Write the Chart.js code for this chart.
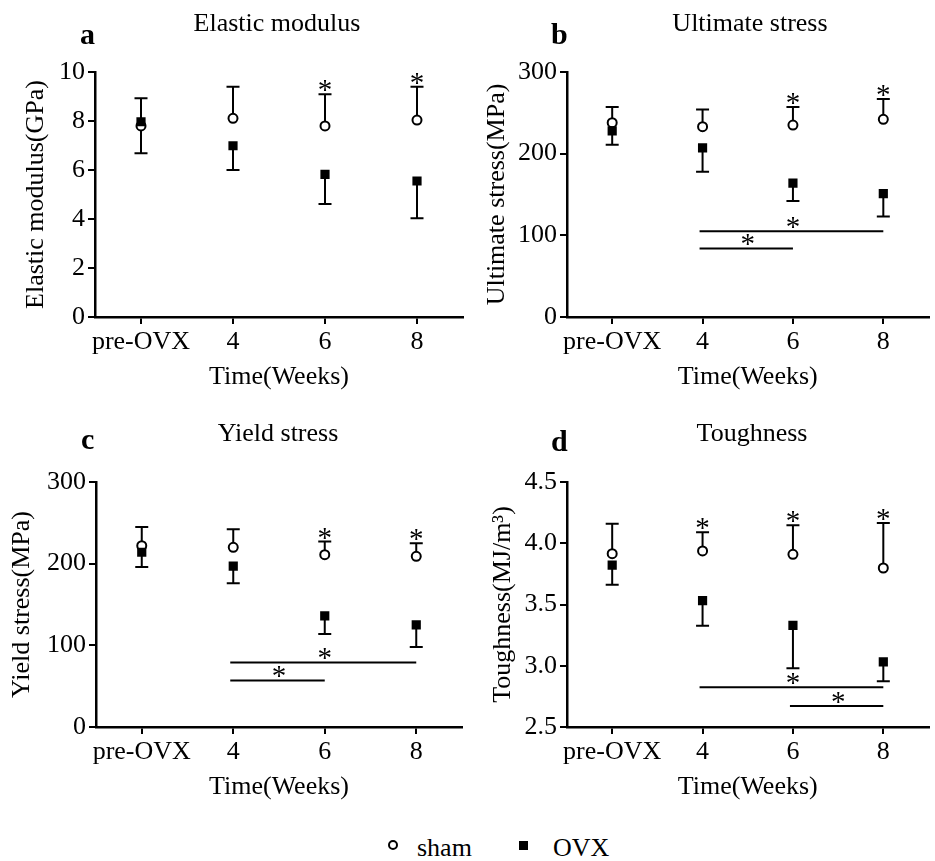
<!DOCTYPE html>
<html>
<head>
<meta charset="utf-8">
<script src="https://cdn.jsdelivr.net/npm/chart.js@4.4.1/dist/chart.umd.min.js"></script>
<style>
  html, body { margin: 0; padding: 0; background: #fff; }
  body { width: 935px; height: 861px; position: relative; overflow: hidden;
         font-family: "Liberation Serif", "Times New Roman", serif; color: #000; }
  .panel { position: absolute; width: 470px; height: 410px; }
  .panel canvas { position: absolute; left: 0; top: 0; }
  .ttl { position: absolute; width: 400px; text-align: center; font-size: 26px; line-height: 30px; white-space: nowrap; }
  .letter { position: absolute; font-size: 30px; font-weight: bold; line-height: 34px; }
  .legend { position: absolute; top: 830px; left: 0; width: 935px; height: 31px; }
  .legend span.t { position: absolute; font-size: 26px; line-height: 30px; top: 3px; }
  .mk-c { position: absolute; width: 6px; height: 6px; border: 2.5px solid #000; border-radius: 50%; background: #fff; }
  .mk-s { position: absolute; width: 9px; height: 9px; background: #000; }
</style>
</head>
<body>

<div class="panel" style="left:0;top:0"><canvas id="cA" width="470" height="410"></canvas></div>
<div class="panel" style="left:465px;top:0"><canvas id="cB" width="470" height="410"></canvas></div>
<div class="panel" style="left:0;top:410px"><canvas id="cC" width="470" height="410"></canvas></div>
<div class="panel" style="left:465px;top:410px"><canvas id="cD" width="470" height="410"></canvas></div>

<div class="letter" style="left:80px;top:17px">a</div>
<div class="letter" style="left:551px;top:17px">b</div>
<div class="letter" style="left:81px;top:422px">c</div>
<div class="letter" style="left:551px;top:424px">d</div>

<div class="ttl" style="left:77px;top:8px">Elastic modulus</div>
<div class="ttl" style="left:550px;top:8px">Ultimate stress</div>
<div class="ttl" style="left:78px;top:418px">Yield stress</div>
<div class="ttl" style="left:552px;top:418px">Toughness</div>

<div class="legend">
  <div class="mk-c" style="left:388px;top:10px"></div>
  <span class="t" style="left:417px">sham</span>
  <div class="mk-s" style="left:519px;top:11px"></div>
  <span class="t" style="left:553px">OVX</span>
</div>

<script>
// ---------- data ----------
const categories = ['pre-OVX', '4', '6', '8'];
const xAxisTitle = 'Time(Weeks)';

// a: Elastic modulus (GPa)
const shamA    = [7.80, 8.11, 7.80, 8.04];
const shamErrA = [1.13, 1.29, 1.29, 1.36];
const ovxA     = [7.97, 6.99, 5.82, 5.55];
const ovxErrA  = [1.29, 0.99, 1.21, 1.52];
const starsA   = [false, false, true, true];
const sigA     = [];
const yTicksA  = [0, 2, 4, 6, 8, 10];

// b: Ultimate stress (MPa)
const shamB    = [238, 233, 235, 242];
const shamErrB = [19, 21, 22, 25];
const ovxB     = [228, 207, 164, 151];
const ovxErrB  = [17, 29, 22, 28];
const starsB   = [false, false, true, true];
const sigFromB = [1, 1];
const sigToB   = [3, 2];
const sigValB  = [105, 84];
const yTicksB  = [0, 100, 200, 300];

// c: Yield stress (MPa)
const shamC    = [222, 220, 211, 209];
const shamErrC = [23, 22, 16, 16];
const ovxC     = [214, 197, 136, 125];
const ovxErrC  = [18, 21, 22, 27];
const starsC   = [false, false, true, true];
const sigFromC = [1, 1];
const sigToC   = [3, 2];
const sigValC  = [79, 57];
const yTicksC  = [0, 100, 200, 300];

// d: Toughness (MJ/m3)
const shamD    = [3.915, 3.937, 3.910, 3.798];
const shamErrD = [0.245, 0.152, 0.236, 0.367];
const ovxD     = [3.822, 3.531, 3.330, 3.031];
const ovxErrD  = [0.160, 0.204, 0.351, 0.158];
const starsD   = [false, true, true, true];
const sigFromD = [1, 2];
const sigToD   = [3, 3];
const sigValD  = [2.824, 2.671];
const yTicksD  = [2.5, 3.0, 3.5, 4.0, 4.5];

// ---------- drawing helpers ----------
const FONT = { family: '"Liberation Serif", "Times New Roman", serif', size: 26 };

const errPlugin = {
  id: 'errbars',
  beforeDatasetsDraw(chart) {
    const ctx = chart.ctx, ys = chart.scales.y;
    chart.data.datasets.forEach((ds, i) => {
      const meta = chart.getDatasetMeta(i);
      meta.data.forEach((pt, j) => {
        const end = ys.getPixelForValue(ds.data[j] + ds.errDir * ds.err[j]);
        ctx.save();
        ctx.strokeStyle = '#000';
        ctx.lineWidth = 2;
        ctx.beginPath();
        ctx.moveTo(pt.x, pt.y);
        ctx.lineTo(pt.x, end);
        ctx.moveTo(pt.x - 6.5, end);
        ctx.lineTo(pt.x + 6.5, end);
        ctx.stroke();
        ctx.restore();
      });
    });
  },
  afterDatasetsDraw(chart) {
    const ctx = chart.ctx, ys = chart.scales.y, xs = chart.scales.x;
    const ann = chart.options.plugins.ann;
    ctx.save();
    ctx.fillStyle = '#000';
    ctx.strokeStyle = '#000';
    ctx.font = '29px ' + FONT.family;
    ctx.textAlign = 'center';
    ctx.textBaseline = 'alphabetic';
    // stars above sham error bars
    const sham = chart.data.datasets[0];
    ann.stars.forEach((s, j) => {
      if (!s) return;
      const top = ys.getPixelForValue(sham.data[j] + sham.err[j]);
      ctx.fillText('*', xs.getPixelForValue(j), top + 5);
    });
    // significance brackets between OVX time points
    ann.from.forEach((f, k) => {
      const x1 = xs.getPixelForValue(f), x2 = xs.getPixelForValue(ann.to[k]);
      const y = ys.getPixelForValue(ann.val[k]);
      ctx.lineWidth = 2;
      ctx.beginPath();
      ctx.moveTo(x1 - 3, y);
      ctx.lineTo(x2, y);
      ctx.stroke();
      ctx.fillText('*', (x1 + x2) / 2, y + 5);
    });
    ctx.restore();
  }
};

function makeChart(id, cfg) {
  const ds = [
    { label: 'sham', data: cfg.sham, err: cfg.shamErr, errDir: 1, order: 1,
      pointStyle: 'circle', pointRadius: 4.5, pointBorderWidth: 2,
      pointBackgroundColor: '#fff', pointBorderColor: '#000', showLine: false },
    { label: 'OVX', data: cfg.ovx, err: cfg.ovxErr, errDir: -1, order: 0,
      pointStyle: 'rect', pointRadius: 6.5, pointBorderWidth: 0,
      pointBackgroundColor: '#000', pointBorderColor: '#000', showLine: false }
  ];
  return new Chart(document.getElementById(id), {
    type: 'line',
    data: { labels: categories, datasets: ds },
    options: {
      responsive: false,
      animation: false,
      events: [],
      layout: { padding: cfg.pad },
      plugins: {
        legend: { display: false },
        tooltip: { enabled: false },
        title: { display: false },
        ann: { stars: cfg.stars, from: cfg.from, to: cfg.to, val: cfg.val }
      },
      scales: {
        x: {
          type: 'category',
          offset: true,
          grid: { offset: false, drawOnChartArea: false, drawTicks: true, tickLength: 7, color: '#000', lineWidth: 2 },
          border: { display: true, color: '#000', width: 2.5 },
          ticks: { color: '#000', font: FONT, padding: 3, maxRotation: 0, autoSkip: false },
          title: { display: true, text: xAxisTitle, color: '#000', font: FONT, padding: 0 },
          afterFit: s => { s.height = 76; }
        },
        y: {
          min: cfg.ticks[0],
          max: cfg.ticks[cfg.ticks.length - 1],
          afterBuildTicks: s => { s.ticks = cfg.ticks.map(v => ({ value: v })); },
          grid: { drawOnChartArea: false, drawTicks: true, tickLength: 7, color: '#000', lineWidth: 2 },
          border: { display: true, color: '#000', width: 2.5 },
          ticks: { color: '#000', font: FONT, padding: 3, callback: cfg.fmt },
          title: { display: true, text: cfg.yTitle, color: '#000', font: FONT, padding: 0 },
          afterFit: s => { s.width = cfg.yW; }
        }
      }
    },
    plugins: [errPlugin]
  });
}

makeChart('cA', { sham: shamA, shamErr: shamErrA, ovx: ovxA, ovxErr: ovxErrA, stars: starsA,
  from: sigA, to: sigA, val: sigA, ticks: yTicksA, fmt: v => String(v),
  yTitle: 'Elastic modulus(GPa)', yW: 74, pad: { left: 21, top: 72, right: 7, bottom: 17 } });

makeChart('cB', { sham: shamB, shamErr: shamErrB, ovx: ovxB, ovxErr: ovxErrB, stars: starsB,
  from: sigFromB, to: sigToB, val: sigValB, ticks: yTicksB, fmt: v => String(v),
  yTitle: 'Ultimate stress(MPa)', yW: 85, pad: { left: 17, top: 72, right: 2, bottom: 17 } });

makeChart('cC', { sham: shamC, shamErr: shamErrC, ovx: ovxC, ovxErr: ovxErrC, stars: starsC,
  from: sigFromC, to: sigToC, val: sigValC, ticks: yTicksC, fmt: v => String(v),
  yTitle: 'Yield stress(MPa)', yW: 89, pad: { left: 7, top: 72, right: 8, bottom: 17 } });

makeChart('cD', { sham: shamD, shamErr: shamErrD, ovx: ovxD, ovxErr: ovxErrD, stars: starsD,
  from: sigFromD, to: sigToD, val: sigValD, ticks: yTicksD, fmt: v => Number(v).toFixed(1),
  yTitle: 'Toughness(MJ/m³)', yW: 79, pad: { left: 23, top: 72, right: 2, bottom: 17 } });
</script>
</body>
</html>
